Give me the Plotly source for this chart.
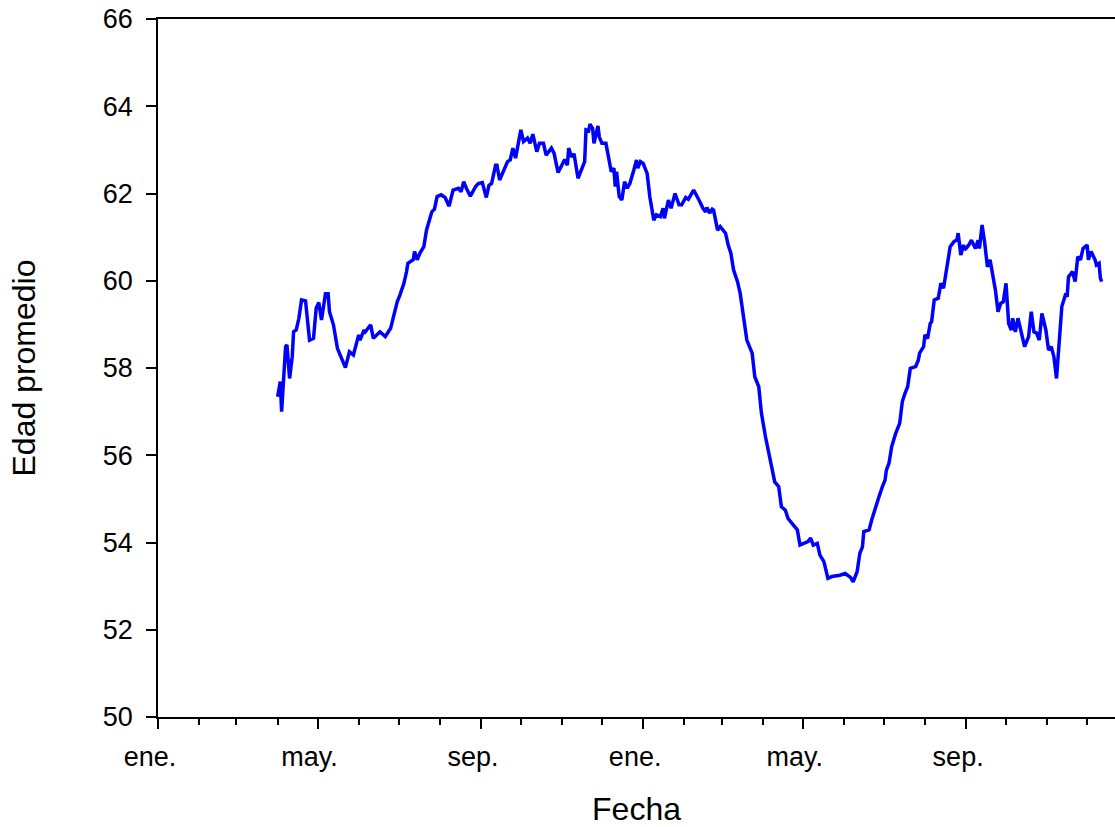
import plotly.graph_objects as go

# Edad promedio (valores diarios)
fechas = [
    "2021-04-01", "2021-04-03", "2021-04-04", "2021-04-07", "2021-04-08", "2021-04-10", "2021-04-12", "2021-04-13",
    "2021-04-15", "2021-04-17", "2021-04-19", "2021-04-22", "2021-04-25", "2021-04-28", "2021-04-30", "2021-05-02",
    "2021-05-04", "2021-05-07", "2021-05-09", "2021-05-10", "2021-05-13", "2021-05-16", "2021-05-18", "2021-05-20",
    "2021-05-22", "2021-05-25", "2021-05-28", "2021-06-01", "2021-06-02", "2021-06-05", "2021-06-06", "2021-06-10",
    "2021-06-12", "2021-06-17", "2021-06-21", "2021-06-25", "2021-06-27", "2021-06-30", "2021-07-02", "2021-07-05",
    "2021-07-07", "2021-07-08", "2021-07-12", "2021-07-13", "2021-07-15", "2021-07-17", "2021-07-20", "2021-07-22",
    "2021-07-26", "2021-07-28", "2021-07-30", "2021-08-02", "2021-08-05", "2021-08-08", "2021-08-11", "2021-08-15",
    "2021-08-17", "2021-08-19", "2021-08-21", "2021-08-24", "2021-08-28", "2021-08-30", "2021-09-02", "2021-09-05",
    "2021-09-07", "2021-09-09", "2021-09-12", "2021-09-13", "2021-09-15", "2021-09-18", "2021-09-21", "2021-09-23",
    "2021-09-25", "2021-09-27", "2021-09-29", "2021-10-01", "2021-10-03", "2021-10-06", "2021-10-08", "2021-10-10",
    "2021-10-13", "2021-10-15", "2021-10-18", "2021-10-20", "2021-10-24", "2021-10-26", "2021-10-29", "2021-11-02",
    "2021-11-03", "2021-11-05", "2021-11-06", "2021-11-08", "2021-11-10", "2021-11-13", "2021-11-16", "2021-11-18",
    "2021-11-19", "2021-11-21", "2021-11-22", "2021-11-24", "2021-11-25", "2021-11-28", "2021-11-29", "2021-12-01",
    "2021-12-04", "2021-12-07", "2021-12-08", "2021-12-10", "2021-12-11", "2021-12-12", "2021-12-14", "2021-12-16",
    "2021-12-18", "2021-12-20", "2021-12-22", "2021-12-25", "2021-12-27", "2021-12-28", "2021-12-30", "2022-01-01",
    "2022-01-04", "2022-01-06", "2022-01-09", "2022-01-11", "2022-01-14", "2022-01-16", "2022-01-17", "2022-01-20",
    "2022-01-22", "2022-01-25", "2022-01-28", "2022-01-30", "2022-02-02", "2022-02-04", "2022-02-08", "2022-02-12",
    "2022-02-15", "2022-02-17", "2022-02-18", "2022-02-20", "2022-02-22", "2022-02-23", "2022-02-26", "2022-02-28",
    "2022-03-04", "2022-03-06", "2022-03-08", "2022-03-10", "2022-03-13", "2022-03-15", "2022-03-18", "2022-03-20",
    "2022-03-24", "2022-03-26", "2022-03-29", "2022-03-31", "2022-04-03", "2022-04-05", "2022-04-08", "2022-04-10",
    "2022-04-13", "2022-04-15", "2022-04-18", "2022-04-20", "2022-04-23", "2022-04-27", "2022-04-29", "2022-05-03",
    "2022-05-05", "2022-05-07", "2022-05-09", "2022-05-12", "2022-05-14", "2022-05-17", "2022-05-20", "2022-05-23",
    "2022-05-26", "2022-05-29", "2022-06-02", "2022-06-06", "2022-06-08", "2022-06-11", "2022-06-13", "2022-06-15",
    "2022-06-16", "2022-06-20", "2022-06-22", "2022-06-25", "2022-06-27", "2022-06-30", "2022-07-02", "2022-07-03",
    "2022-07-05", "2022-07-07", "2022-07-10", "2022-07-13", "2022-07-15", "2022-07-17", "2022-07-19", "2022-07-21",
    "2022-07-25", "2022-07-27", "2022-07-28", "2022-07-31", "2022-08-01", "2022-08-03", "2022-08-05", "2022-08-06",
    "2022-08-08", "2022-08-11", "2022-08-13", "2022-08-15", "2022-08-17", "2022-08-18", "2022-08-20", "2022-08-23",
    "2022-08-25", "2022-08-26", "2022-08-28", "2022-08-30", "2022-08-31", "2022-09-03", "2022-09-05", "2022-09-08",
    "2022-09-10", "2022-09-11", "2022-09-13", "2022-09-15", "2022-09-17", "2022-09-19", "2022-09-20", "2022-09-23",
    "2022-09-25", "2022-09-27", "2022-09-29", "2022-10-01", "2022-10-03", "2022-10-05", "2022-10-06", "2022-10-08",
    "2022-10-10", "2022-10-12", "2022-10-14", "2022-10-15", "2022-10-18", "2022-10-20", "2022-10-22", "2022-10-24",
    "2022-10-26", "2022-10-28", "2022-10-31", "2022-11-02", "2022-11-04", "2022-11-06", "2022-11-08", "2022-11-10",
    "2022-11-12", "2022-11-15", "2022-11-16", "2022-11-17", "2022-11-20", "2022-11-22", "2022-11-24", "2022-11-26",
    "2022-11-28", "2022-12-01", "2022-12-02", "2022-12-04", "2022-12-07", "2022-12-08", "2022-12-10", "2022-12-11",
    "2022-12-12",
]

edad = [
    57.34, 57.69, 57.00, 58.49, 58.53, 57.76, 58.26, 58.83,
    58.87, 59.14, 59.56, 59.54, 58.64, 58.68, 59.37, 59.50,
    59.10, 59.70, 59.70, 59.29, 58.99, 58.45, 58.30, 58.14,
    58.01, 58.37, 58.30, 58.76, 58.64, 58.87, 58.83, 58.99,
    58.68, 58.83, 58.72, 58.91, 59.18, 59.52, 59.67, 59.94,
    60.21, 60.40, 60.48, 60.67, 60.48, 60.63, 60.78, 61.16,
    61.58, 61.64, 61.93, 61.97, 61.91, 61.71, 62.08, 62.12,
    62.04, 62.27, 62.12, 61.94, 62.16, 62.23, 62.25, 61.91,
    62.19, 62.23, 62.65, 62.65, 62.31, 62.50, 62.73, 62.77,
    63.04, 62.81, 63.15, 63.46, 63.19, 63.27, 63.15, 63.36,
    62.96, 63.15, 63.15, 62.88, 63.04, 62.92, 62.48, 62.69,
    62.78, 62.65, 63.04, 62.84, 62.91, 62.35, 62.61, 62.73,
    63.46, 63.44, 63.59, 63.49, 63.15, 63.55, 63.30, 63.15,
    63.15, 62.61, 62.50, 62.58, 62.16, 62.50, 61.93, 61.85,
    62.27, 62.12, 62.23, 62.54, 62.77, 62.58, 62.73, 62.69,
    62.46, 61.93, 61.39, 61.51, 61.47, 61.66, 61.43, 61.85,
    61.66, 62.00, 61.74, 61.74, 61.91, 61.87, 62.08, 61.85,
    61.66, 61.58, 61.68, 61.55, 61.64, 61.62, 61.16, 61.24,
    61.09, 60.82, 60.63, 60.25, 59.98, 59.71, 59.02, 58.64,
    58.34, 57.80, 57.57, 56.96, 56.43, 56.12, 55.74, 55.39,
    55.28, 54.82, 54.74, 54.55, 54.44, 54.29, 53.94, 53.98,
    54.02, 54.10, 53.94, 53.98, 53.71, 53.56, 53.18, 53.22,
    53.23, 53.25, 53.29, 53.20, 53.10, 53.33, 53.75, 53.90,
    54.25, 54.29, 54.52, 54.86, 55.01, 55.28, 55.43, 55.66,
    55.82, 56.20, 56.50, 56.73, 57.23, 57.42, 57.57, 57.99,
    58.03, 58.18, 58.34, 58.49, 58.76, 58.68, 59.02, 59.06,
    59.56, 59.60, 59.94, 59.83, 60.17, 60.44, 60.78, 60.90,
    60.93, 61.09, 60.59, 60.82, 60.71, 60.82, 60.93, 60.74,
    60.93, 60.74, 61.28, 60.86, 60.32, 60.48, 60.32, 59.79,
    59.29, 59.48, 59.52, 59.94, 59.02, 58.87, 59.14, 58.83,
    59.14, 58.87, 58.64, 58.49, 58.72, 59.29, 58.83, 58.80,
    58.64, 59.25, 58.87, 58.41, 58.49, 58.26, 57.76, 58.72,
    59.41, 59.71, 59.63, 60.09, 60.21, 59.98, 60.55, 60.48,
    60.74, 60.82, 60.48, 60.67, 60.48, 60.36, 60.40, 60.06,
    59.98,
]

# etiquetas del eje x (cada 4 meses)
tick_fechas = ["2021-01-01", "2021-05-01", "2021-09-01", "2022-01-01", "2022-05-01", "2022-09-01"]
tick_textos = ["ene.", "may.", "sep.", "ene.", "may.", "sep."]

assert len(fechas) == len(edad)

fig = go.Figure()
fig.add_trace(
    go.Scatter(
        x=fechas,
        y=edad,
        mode="lines",
        line=dict(color="#0000ff", width=3.5),
        showlegend=False,
    )
)

fig.update_layout(
    width=1115,
    height=827,
    margin=dict(l=158, r=0, t=19, b=110),
    plot_bgcolor="white",
    paper_bgcolor="white",
    font=dict(family="Arial, Liberation Sans, sans-serif", size=27, color="black"),
)

fig.update_xaxes(
    range=["2021-01-01", "2022-12-22"],
    tickmode="array",
    tickvals=tick_fechas,
    ticktext=tick_textos,
    ticks="outside",
    ticklen=10,
    tickwidth=1.5,
    tickcolor="black",
    ticklabelshift=-8,
    ticklabelstandoff=5,
    showline=True,
    linecolor="black",
    linewidth=1.5,
    mirror=True,
    showgrid=False,
    zeroline=False,
    automargin=False,
    minor=dict(dtick="M1", tick0="2021-01-01", ticks="outside", ticklen=6,
               tickwidth=1.5, tickcolor="black", showgrid=False),
    title=dict(text="Fecha", font=dict(size=32), standoff=34),
)

fig.update_yaxes(
    range=[50, 66],
    dtick=2,
    ticks="outside",
    ticklen=10,
    tickwidth=1.5,
    tickcolor="black",
    ticklabelstandoff=8,
    showline=True,
    linecolor="black",
    linewidth=1.5,
    showgrid=False,
    zeroline=False,
    automargin=False,
    title=dict(text="Edad promedio", font=dict(size=32), standoff=58),
)

# drop the default 8px body margin so the figure sits at the window corner
fig.write_html(
    "out.html",
    config={"displayModeBar": False},
    post_script="document.body.style.margin = '0';",
)
